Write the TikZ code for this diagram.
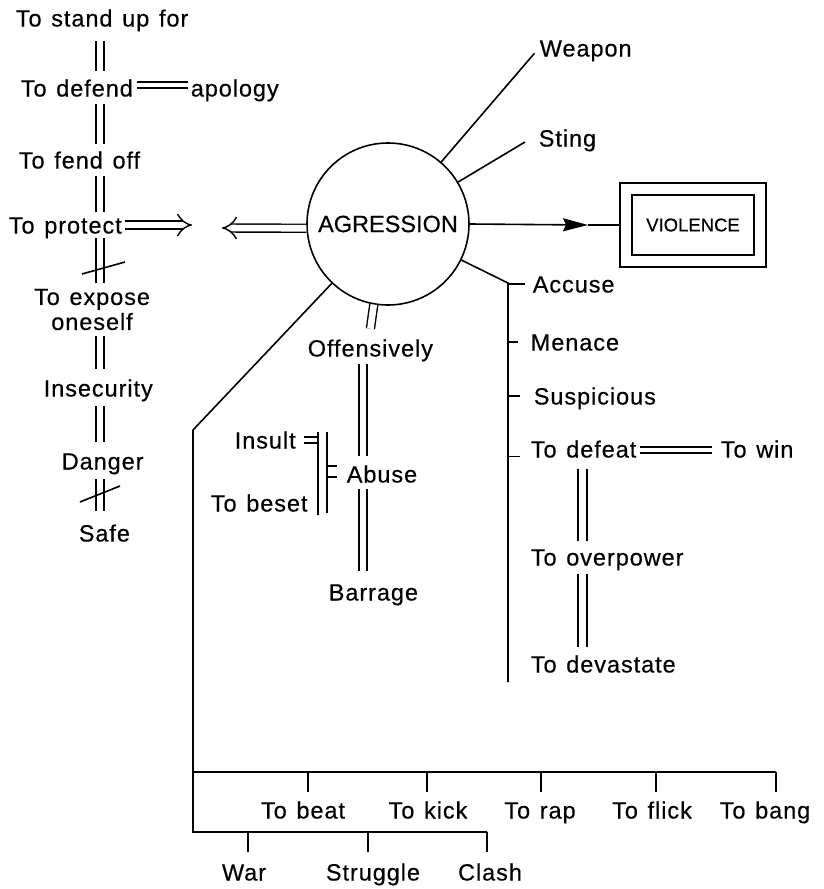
\documentclass[tikz,border=0pt]{standalone}
\usepackage{fontspec}
\setmainfont{Liberation Sans}[FakeBold=0.4]
\newfontfamily\lblfont{Liberation Sans}[LetterSpace=4.0,WordSpace=1.3,FakeBold=0.4]
\usetikzlibrary{arrows.meta}
\begin{document}
\begin{tikzpicture}[x=1pt,y=-1pt,line width=1.6pt,
  lbl/.style={inner sep=0pt,text height=17pt,text depth=0pt,anchor=west,
    font=\lblfont\fontsize{23.5pt}{25pt}\selectfont},
  lblc/.style={lbl,anchor=center},
  dbl/.style={double,double distance=6.6pt,line width=1.4pt},
  dbln/.style={double,double distance=4.8pt,line width=1.4pt},
  imp/.style={-{Implies[scale=1.5]}}]
\useasboundingbox[fill=white] (0,0) rectangle (823,889);

% ---------- left column ----------
\coordinate (colL) at (100,0);
\node[lbl] (stand) at (15,18) {To stand up for};
\node[lbl] (defend) at (20,88) {To defend};
\node[lbl] (apology) at (190,88) {apology};
\node[lbl] (fend) at (18,160) {To fend off};
\node[lbl] (protect) at (8,225) {To protect};
\node[inner sep=0pt,align=center,anchor=north,
  font=\lblfont\fontsize{23.5pt}{25pt}\selectfont] (expose) at (92,288) {To expose\\oneself};
\node[lbl] (insec) at (43,388) {Insecurity};
\node[lbl] (danger) at (61,461) {Danger};
\node[lbl] (safe) at (78,533) {Safe};

\draw[dbl,shorten <=13.5pt,shorten >=7.5pt] (stand.south -| colL) -- (defend.north -| colL);
\draw[dbl,shorten <=6.5pt,shorten >=6.5pt] (defend.south -| colL) -- (fend.north -| colL);
\draw[dbl,shorten <=6.5pt,shorten >=3.5pt] (fend.south -| colL) -- (protect.north -| colL);
\draw[dbl,shorten <=3.5pt,shorten >=5pt] (protect.south -| colL) -- (expose.north -| colL);
\draw[dbl,shorten <=4.5pt,shorten >=9.5pt] (expose.south -| colL) -- (insec.north -| colL);
\draw[dbl,shorten <=8.5pt,shorten >=9.5pt] (insec.south -| colL) -- (danger.north -| colL);
\draw[dbl,shorten <=8.5pt,shorten >=12.5pt] (danger.south -| colL) -- (safe.north -| colL);
% negation slashes
\draw (82,274) -- (125,262);
\draw (80,502) -- (120,486);

\draw[dbln,shorten <=3pt,shorten >=2pt] ([yshift=3pt]defend.east) -- ([yshift=3pt]apology.west);

% ---------- centre ----------
\node[circle,draw,minimum size=162pt,inner sep=0pt,
  font=\fontsize{23.5pt}{25pt}\selectfont] (ag) at (388,224) {AGRESSION};

\coordinate (pTip) at (192,225);
\draw[dbl,imp,shorten <=2pt] (protect.east) -- (pTip);
\coordinate (aTip) at (222,228);
\draw[dbl,imp] (ag.183) -- (aTip);

\node[draw,double,double distance=10.4pt,minimum width=134pt,minimum height=72pt,
  inner sep=0pt,font=\fontsize{18.5pt}{20pt}\selectfont] (vio) at (693,225) {VIOLENCE};
\coordinate (vTip) at (588,225);
\draw[-{Stealth[length=25pt,width=13pt,inset=3pt]}] (ag.east) -- (vTip);
\draw (vTip) -- ([xshift=-6pt]vio.west);

\node[lbl] (weapon) at (539,48) {Weapon};
\draw[shorten >=7pt] (ag) -- (weapon.west);
\node[lbl] (sting) at (538,138) {Sting};
\draw (ag) -- ([xshift=-13pt,yshift=-4pt]sting.west);

% ---------- right branch ----------
\coordinate (accJ) at (508,283);
\coordinate (accEnd) at (508,682);
\draw (ag) -- (accJ) -- (accEnd);
\node[lbl] (accuse) at (532,284) {Accuse};
\node[lbl] (menace) at (530,342) {Menace};
\node[lbl] (susp) at (533,396) {Suspicious};
\node[lbl] (defeat) at (530,449) {To defeat};
\node[lbl] (win) at (720,449) {To win};
\node[lbl] (overp) at (530,557) {To overpower};
\node[lbl] (devast) at (530,664) {To devastate};
\draw (accuse.west -| accJ) -- ([xshift=-7pt]accuse.west);
\draw (menace.west -| accJ) -- ([xshift=-12pt]menace.west);
\draw (susp.west -| accJ) -- ([xshift=-13pt]susp.west);
\draw ([yshift=2pt]defeat.south west -| accJ) -- ([xshift=-10pt,yshift=2pt]defeat.south west);
\draw[dbln,shorten <=3pt,shorten >=8pt] ([yshift=-1pt]defeat.east) -- ([yshift=-1pt]win.west);
\coordinate (colC) at (582.5,0);
\draw[dbl,double distance=7.4pt,shorten <=10.5pt,shorten >=6.5pt] (defeat.south -| colC) -- (overp.north -| colC);
\draw[dbl,double distance=7.4pt,shorten <=7.5pt,shorten >=7.5pt] (overp.south -| colC) -- (devast.north -| colC);

% ---------- lower middle ----------
\node[lbl] (off) at (307,348) {Offensively};
\node[lbl] (abuse) at (346,474) {Abuse};
\node[lbl] (barrage) at (328,592) {Barrage};
\node[lbl] (insult) at (234,440) {Insult};
\node[lbl] (beset) at (210,503) {To beset};
\draw[dbl] (ag.-100) -- ([yshift=10pt]off.north);
\coordinate (colB) at (363,0);
\draw[dbl,shorten <=6.5pt,shorten >=8.5pt] (off.south -| colB) -- (abuse.north -| colB);
\draw[dbl,shorten <=5.5pt,shorten >=11.5pt] (abuse.south -| colB) -- (barrage.north -| colB);

\coordinate (brL1) at (318,432); \coordinate (brL2) at (318,515);
\coordinate (brR1) at (327,432); \coordinate (brR2) at (327,513);
\draw (brL1) -- (brL2);
\draw (brR1) -- (brR2);
\draw ([xshift=8pt,yshift=3pt]insult.east) -- ([yshift=3pt]insult.east -| brL1);
\draw ([xshift=8pt,yshift=-3pt]insult.east) -- ([yshift=-3pt]insult.east -| brL1);
\draw ([yshift=8pt]abuse.west -| brR1) -- ([xshift=-9pt,yshift=8pt]abuse.west);
\draw ([yshift=-3pt]abuse.west -| brR1) -- ([xshift=-9pt,yshift=-3pt]abuse.west);

% ---------- bottom ----------
\coordinate (lCorner) at (193,430);
\coordinate (lBot) at (193,832);
\coordinate (h1L) at (193,772);
\coordinate (h1R) at (776,772);
\coordinate (h2R) at (487,832);
\draw (ag) -- (lCorner) -- (lBot) -- (h2R);
\draw (h1L) -- (h1R);

\node[lblc] (beat) at (303,810) {To beat};
\node[lblc] (kick) at (428,810) {To kick};
\node[lblc] (rap) at (540,810) {To rap};
\node[lblc] (flick) at (652,810) {To flick};
\node[lblc] (bang) at (765,810) {To bang};
\draw ([xshift=5pt]beat.north |- h1L) -- ++(0,20);
\draw ([xshift=-1pt]kick.north |- h1L) -- ++(0,20);
\draw ([xshift=1pt]rap.north |- h1L) -- ++(0,20);
\draw ([xshift=4pt]flick.north |- h1L) -- ++(0,20);
\draw (h1R) -- ++(0,20);

\node[lblc] (war) at (244,872) {War};
\node[lblc] (strug) at (373,872) {Struggle};
\node[lblc] (clash) at (490,872) {Clash};
\draw ([xshift=4pt]war.north |- lBot) -- ++(0,20);
\draw ([xshift=-5pt]strug.north |- lBot) -- ++(0,20);
\draw (h2R) -- ++(0,20);
\end{tikzpicture}
\end{document}
